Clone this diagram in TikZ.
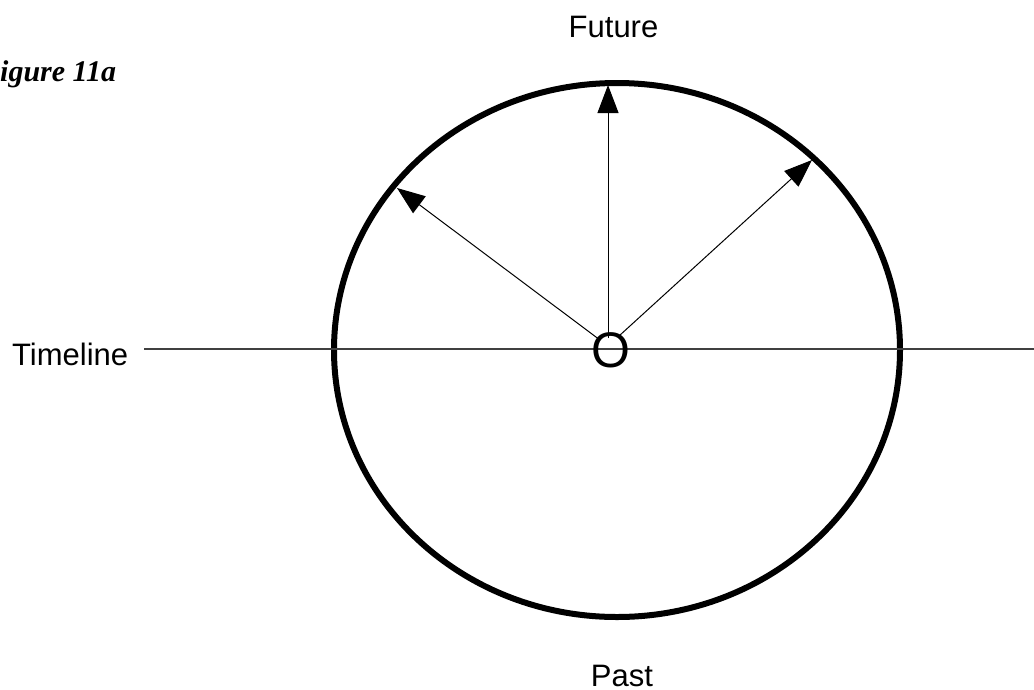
\documentclass[tikz,border=0pt]{standalone}
\usepackage{fontspec}
\setmainfont{Liberation Sans}
\newfontfamily\figfont{Liberation Serif}
\usetikzlibrary{arrows.meta}
\begin{document}
\begin{tikzpicture}[x=1pt,y=-1pt,
  lbl/.style={inner sep=0pt,font=\fontsize{31}{37}\selectfont},
  vec/.style={line width=1pt,-{Triangle[width=21pt,length=28pt]}},
  rim/.style={line width=6pt},
  axis/.style={line width=1.1pt,black!75}]
\useasboundingbox (0,0) rectangle (1034,689);
% title
\node[inner sep=0pt,anchor=base west,font=\figfont\bfseries\itshape\fontsize{30}{36}\selectfont] (fig) at (-20,81) {Figure 11a};
% labels
\node[lbl,anchor=base west] (tl) at (12,365) {Timeline};
\node[lbl,anchor=base] (fu) at (613.5,37) {Future};
\node[lbl,anchor=base] (pa) at (622,686) {Past};
% ellipse
\draw[rim] (617,350) ellipse [x radius=283, y radius=267];
% timeline
\coordinate (tlA) at (144,349);
\coordinate (tlB) at (1034,349);
\draw[axis] (tlA) -- (tlB);
% origin
\node[inner sep=0pt,font=\fontsize{50}{58}\selectfont] (O) at (611,350) {O};
\coordinate (o) at (608,346);
\coordinate (t1) at (397,188);
\coordinate (t2) at (608,85);
\coordinate (t3) at (812,160);
\draw[vec,shorten <=12pt] (o) -- (t1);
\draw[vec,shorten <=8pt] (o) -- (t2);
\draw[vec,shorten <=15pt] (o) -- (t3);
\end{tikzpicture}
\end{document}
